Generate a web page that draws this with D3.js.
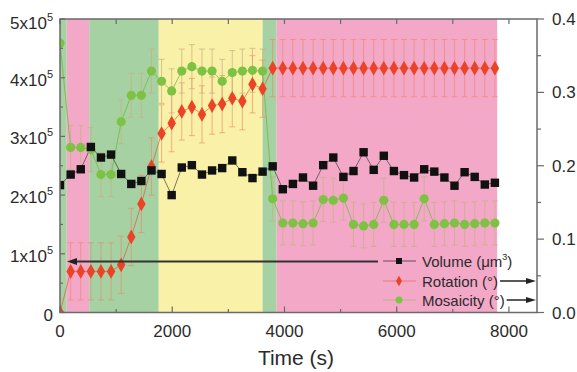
<!DOCTYPE html>
<html><head><meta charset="utf-8">
<script src="https://cdn.jsdelivr.net/npm/d3@7"></script>
<style>body{margin:0;background:#fff;}svg{display:block;font-family:Arial,"Liberation Sans",sans-serif;}</style>
</head><body>
<svg id="c" width="577" height="372"></svg>
<script>
const times = [0,190,370,550,730,910,1090,1270,1450,1630,1810,1990,2170,2350,2530,2710,2890,3070,3250,3430,3610,3790,3970,4150,4330,4510,4690,4870,5050,5230,5410,5590,5770,5950,6130,6310,6490,6670,6850,7030,7210,7390,7570,7750];
const volume = [217000,235000,244000,282000,264000,269000,236000,219000,224000,242000,236000,200000,247000,251000,235000,242000,246000,259000,239000,229000,240000,249000,210000,219000,230000,216000,251000,264000,231000,241000,273000,243000,267000,241000,234000,230000,244000,240000,230000,216000,239000,231000,218000,221000];
const rotation = [0,0.056,0.056,0.056,0.056,0.056,0.065,0.103,0.148,0.199,0.244,0.258,0.274,0.280,0.270,0.282,0.284,0.292,0.288,0.311,0.305,0.333,0.333,0.333,0.333,0.333,0.333,0.333,0.333,0.333,0.333,0.333,0.333,0.333,0.333,0.333,0.333,0.333,0.333,0.333,0.333,0.333,0.333,0.333];
const mosaicity = [0.367,0.225,0.225,0.222,0.188,0.188,0.260,0.296,0.296,0.329,0.315,0.302,0.329,0.335,0.329,0.329,0.315,0.327,0.329,0.330,0.329,0.155,0.122,0.122,0.121,0.122,0.154,0.153,0.156,0.120,0.118,0.120,0.153,0.120,0.120,0.120,0.155,0.120,0.121,0.122,0.120,0.121,0.122,0.122];
const rotationErr = 0.039;
const mosaicityErr = 0.03;
const bandStarts = [0,120,520,1760,3610,3860];
const bandEnds = [120,520,1760,3610,3860,7790];
const bandColors = ["#a6d1a3","#f3a8c8","#a6d1a3","#f9f1a7","#a6d1a3","#f3a8c8"];
const xTicks = [0,2000,4000,6000,8000];
const leftTicks = [0,1,2,3,4,5];
const rightTicks = [0.0,0.1,0.2,0.3,0.4];
const legendLabels = ["Volume (\u03bcm","Rotation (\u00b0)","Mosaicity (\u00b0)"];

const svg = d3.select("#c");
const L=60, R=537, T=19, B=312.5;
const x = d3.scaleLinear().domain([0,8500]).range([L,R]);
const yL = d3.scaleLinear().domain([0,500000]).range([B,T]);
const yR = d3.scaleLinear().domain([0,0.4]).range([B,T]);
const axisCol = "#6a6a6a", textCol="#2b2b2b";

svg.append("defs").append("clipPath").attr("id","plotclip").append("rect")
  .attr("x",L).attr("y",T-6).attr("width",R-L).attr("height",B-T+6);
const plot = svg.append("g").attr("clip-path","url(#plotclip)");

// bands
plot.append("g").selectAll("rect").data(bandStarts).join("rect")
  .attr("x",(d)=>x(d)).attr("y",T)
  .attr("width",(d,i)=>x(bandEnds[i])-x(d)).attr("height",B-T)
  .attr("fill",(d,i)=>bandColors[i]);

// error bars
function errBars(vals, err, scale, col, skip){
  const g = plot.append("g").attr("stroke",col).attr("stroke-width",1).attr("fill","none");
  vals.forEach((v,i)=>{
    if(i<skip) return;
    const cx = x(times[i]), y1 = scale(v+err), y2 = scale(v-err);
    g.append("line").attr("x1",cx).attr("x2",cx).attr("y1",y1).attr("y2",y2);
    g.append("line").attr("x1",cx-3).attr("x2",cx+3).attr("y1",y1).attr("y2",y1);
    g.append("line").attr("x1",cx-3).attr("x2",cx+3).attr("y1",y2).attr("y2",y2);
  });
}
errBars(rotation, rotationErr, yR, "rgba(238,130,100,0.6)", 1);
errBars(mosaicity, mosaicityErr, yR, "rgba(200,175,130,0.7)", 1);

// lines
const lineR = d3.line().x((d,i)=>x(times[i])).y(d=>yR(d));
const lineL = d3.line().x((d,i)=>x(times[i])).y(d=>yL(d));
plot.append("path").attr("d",lineR(mosaicity)).attr("fill","none").attr("stroke","rgba(110,185,60,0.75)").attr("stroke-width",1);
plot.append("path").attr("d",lineR(rotation)).attr("fill","none").attr("stroke","rgba(230,70,40,0.6)").attr("stroke-width",1);
plot.append("path").attr("d",lineL(volume)).attr("fill","none").attr("stroke","rgba(40,40,40,0.6)").attr("stroke-width",1);

// markers
plot.append("g").selectAll("circle").data(mosaicity).join("circle")
  .attr("cx",(d,i)=>x(times[i])).attr("cy",d=>yR(d)).attr("r",4.6).attr("fill","#7ec243");
const diamond = d3.symbol().type(d3.symbolDiamond).size(62);
plot.append("g").selectAll("path").data(rotation).join("path")
  .attr("transform",(d,i)=>`translate(${x(times[i])},${yR(d)})`).attr("d",diamond).attr("fill","#ec4226");
plot.append("g").selectAll("rect").data(volume).join("rect")
  .attr("x",(d,i)=>x(times[i])-4.2).attr("y",d=>yL(d)-4.2).attr("width",8.4).attr("height",8.4).attr("fill","#111");

// frame
svg.append("rect").attr("x",L).attr("y",T).attr("width",R-L).attr("height",B-T).attr("fill","none").attr("stroke",axisCol).attr("stroke-width",1.5);

// ticks
const gt = svg.append("g").attr("stroke",axisCol).attr("stroke-width",1.2);
d3.range(0,8001,1000).forEach(v=>{
  const len = v%2000===0?6:3.5;
  gt.append("line").attr("x1",x(v)).attr("x2",x(v)).attr("y1",B).attr("y2",B-len);
  gt.append("line").attr("x1",x(v)).attr("x2",x(v)).attr("y1",T).attr("y2",T+5);
});
d3.range(0,5.01,0.5).forEach(v=>{
  const len = Math.abs(v-Math.round(v))<1e-6?5:3;
  gt.append("line").attr("x1",L).attr("x2",L+len).attr("y1",yL(v*1e5)).attr("y2",yL(v*1e5));
});
d3.range(0,0.401,0.05).forEach(v=>{
  const major = Math.abs(v*10-Math.round(v*10))<1e-6;
  gt.append("line").attr("x1",R).attr("x2",R+(major?7:4)).attr("y1",yR(v)).attr("y2",yR(v));
});

// tick labels
svg.append("g").selectAll("text").data(xTicks).join("text")
  .attr("x",d=>x(d)).attr("y",337).attr("text-anchor","middle").attr("font-size",17).attr("fill",textCol).text(d=>d);
const lt = svg.append("g").selectAll("text").data(leftTicks).join("text")
  .attr("x",53).attr("y",d=>yL(d*1e5)+(d===5?10:8)).attr("text-anchor","end").attr("font-size",17).attr("fill",textCol);
lt.each(function(d){
  const t = d3.select(this);
  if(d===0){t.text("0");return;}
  t.append("tspan").text(d+"x10");
  t.append("tspan").attr("dy",-8).attr("font-size",11).text("5");
});
svg.append("g").selectAll("text").data(rightTicks).join("text")
  .attr("x",552).attr("y",d=>yR(d)+6).attr("font-size",17).attr("fill",textCol).text(d=>d.toFixed(1));

// axis title
svg.append("text").attr("x",296).attr("y",365).attr("text-anchor","middle").attr("font-size",21).attr("fill",textCol).text("Time (s)");

// arrow to left axis
const legY = [261,281,300];
svg.append("line").attr("x1",74).attr("x2",378).attr("y1",legY[0]+0.5).attr("y2",legY[0]+0.5).attr("stroke","#333").attr("stroke-width",2);
svg.append("path").attr("d",`M67,${legY[0]+0.5} L77,${legY[0]-3} L77,${legY[0]+4} Z`).attr("fill","#222");

// legend
const lg = svg.append("g");
const sampleCols = ["rgba(40,40,40,0.7)","rgba(230,70,40,0.5)","rgba(150,185,90,0.6)"];
legY.forEach((yy,i)=>{
  lg.append("line").attr("x1",383).attr("x2",416).attr("y1",yy).attr("y2",yy).attr("stroke",sampleCols[i]).attr("stroke-width",1);
});
lg.append("rect").attr("x",396).attr("y",legY[0]-3).attr("width",6).attr("height",6).attr("fill","#111");
lg.append("path").attr("transform",`translate(399,${legY[1]})`).attr("d",d3.symbol().type(d3.symbolDiamond).size(32)).attr("fill","#ec4226");
lg.append("circle").attr("cx",399).attr("cy",legY[2]).attr("r",3.5).attr("fill","#7ec243");
legendLabels.forEach((lab,i)=>{
  const t = lg.append("text").attr("x",422).attr("y",legY[i]+5.5).attr("font-size",15).attr("fill",textCol);
  t.append("tspan").text(lab);
  if(i===0){ t.append("tspan").attr("dy",-7).attr("font-size",9).text("3"); t.append("tspan").attr("dy",7).text(")"); }
  if(i>0){
    const w = t.node().getComputedTextLength();
    const x0 = 422+w+2, x1 = 536;
    lg.append("line").attr("x1",x0).attr("x2",x1-8).attr("y1",legY[i]).attr("y2",legY[i]).attr("stroke","#222").attr("stroke-width",1.5);
    lg.append("path").attr("d",`M${x1},${legY[i]} L${x1-10},${legY[i]-3} L${x1-10},${legY[i]+3} Z`).attr("fill","#222");
  }
});
</script>
</body></html>
